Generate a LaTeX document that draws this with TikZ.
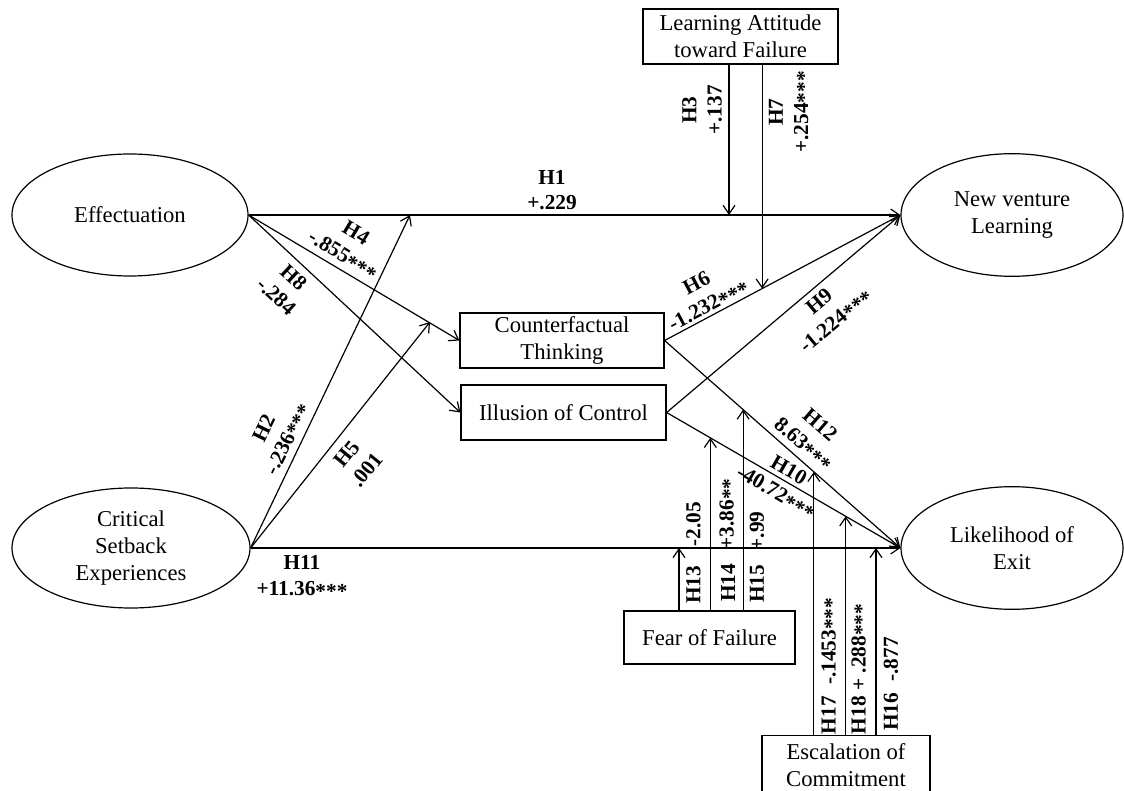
\documentclass[tikz,border=0pt]{standalone}
\usepackage{fontspec}
\setmainfont{Liberation Serif}
\usetikzlibrary{shapes.geometric,arrows.meta,calc}

% significance stars, set a little lower than the font puts them
\newcommand{\sig}[1]{\raisebox{-0.3ex}{#1}}

\begin{document}
\begin{tikzpicture}[x=0.75pt,y=-0.75pt,
  line width=0.9pt,
  txt/.style={font=\fontsize{17}{20}\selectfont, align=center},
  latent/.style={txt, draw, ellipse, inner sep=0pt},
  boxnode/.style={txt, draw, rectangle, inner sep=0pt},
  lbl/.style={font=\fontsize{16}{19}\selectfont\bfseries, align=center, inner sep=0pt},
  arr/.style={-{Straight Barb[length=6.5pt,width=9pt]}},
]
\clip (0,0) rectangle (1124,791);

% constructs
\node[latent, minimum width=177pt, minimum height=91.5pt] (eff) at (130,215) {Effectuation};
\node[latent, minimum width=178.5pt, minimum height=90pt] (cse) at (131,548) {Critical\\Setback\\Experiences};
\node[latent, minimum width=166.5pt, minimum height=92pt] (nvl) at (1012,215) {New venture\\Learning};
\node[latent, minimum width=166.5pt, minimum height=92pt] (le) at (1012,548) {Likelihood of\\Exit};

\node[boxnode, minimum width=146.25pt, minimum height=41.25pt] (lat) at (740.5,36.5) {Learning Attitude\\toward Failure};
\node[boxnode, minimum width=153pt, minimum height=41.25pt] (ct) at (562,340.5) {Counterfactual\\Thinking};
\node[boxnode, minimum width=153.75pt, minimum height=41.25pt] (ic) at (563.5,412.5) {Illusion of Control};
\node[boxnode, minimum width=128.25pt, minimum height=39.75pt] (fof) at (709.5,637.5) {Fear of Failure};
\node[boxnode, minimum width=126pt, minimum height=44pt] (eoc) at (846,765) {Escalation of\\Commitment};

% direct paths
\coordinate (h2) at (410,215);
\coordinate (h5) at (430,322);
\draw[arr] (eff.east) -- (nvl.west);
\draw[arr] (eff.east) -- (ct.west);
\draw[arr] (eff.east) -- (ic.west);
\draw[arr] (cse.east) -- (h2);
\draw[arr] (cse.east) -- (h5);
\draw[arr] (cse.east) -- (le.west);
\draw[arr] (ct.east) -- (nvl.west);
\draw[arr] (ic.east) -- (nvl.west);
\draw[arr] (ct.east) -- (le.west);
\draw[arr] (ic.east) -- (le.west);

% moderating paths
\coordinate (h3) at (729,215);
\coordinate (h7) at ($(ct.east)!0.4135!(nvl.west)$);
\draw[arr] (lat.south -| h3) -- (h3);
\draw[arr] (lat.south -| h7) -- (h7);

\coordinate (h13) at (679,548);
\coordinate (h14) at ($(ic.east)!0.187!(le.west)$);
\coordinate (h15) at ($(ct.east)!0.333!(le.west)$);
\draw[arr] (fof.north -| h13) -- (h13);
\draw[arr] (fof.north -| h14) -- (h14);
\draw[arr] (fof.north -| h15) -- (h15);

\coordinate (h17) at ($(ct.east)!0.633!(le.west)$);
\coordinate (h18) at ($(ic.east)!0.766!(le.west)$);
\coordinate (h16) at (876,548);
\draw[arr] (eoc.north -| h17) -- (h17);
\draw[arr] (eoc.north -| h18) -- (h18);
\draw[arr] (eoc.north -| h16) -- (h16);

% coefficients
\node[lbl] (t1) at (552,190) {H1\\+.229};
\node[lbl, rotate=90] (t3) at (702,110) {H3\\+.137};
\node[lbl, rotate=90] (t7) at (790,112) {H7\\+.254\sig{***}};
\node[lbl, rotate=-31] (t4) at (349,245) {H4\\-.855\sig{***}};
\node[lbl, rotate=-43] (t8) at (285,287) {H8\\-.284};
\node[lbl, rotate=64] (t2) at (277,434) {H2\\-.236\sig{***}};
\node[lbl, rotate=51] (t5) at (357,462) {H5\\.001};
\node[lbl] (t11) at (302,577) {H11\\+11.36\sig{***}};
\node[lbl, rotate=28] (t6) at (703,295) {H6\\-1.232\sig{***}};
\node[lbl, rotate=40] (t9) at (828,312) {H9\\-1.224\sig{***}};
\node[lbl, rotate=-41] (t12) at (811,435) {H12\\8.63\sig{***}};
\node[lbl, rotate=-30] (t10) at (782,482) {H10\\-40.72\sig{***}};

\node[lbl, rotate=90] (t13a) at (693.5,585) {H13};
\node[lbl, rotate=90] (t13b) at (693.5,524) {-2.05};
\node[lbl, rotate=90] (t14a) at (728,583) {H14};
\node[lbl, rotate=90] (t14b) at (728,514) {+3.86\sig{**}};
\node[lbl, rotate=90] (t15a) at (757,584) {H15};
\node[lbl, rotate=90] (t15b) at (757,531) {+.99};

\node[lbl, rotate=90] (t17) at (830,666) {H17\; -.1453\sig{***}};
\node[lbl, rotate=90] (t18) at (860,669) {H18 + .288\sig{***}};
\node[lbl, rotate=90] (t16) at (891,684) {H16\; -.877};
\end{tikzpicture}
\end{document}
